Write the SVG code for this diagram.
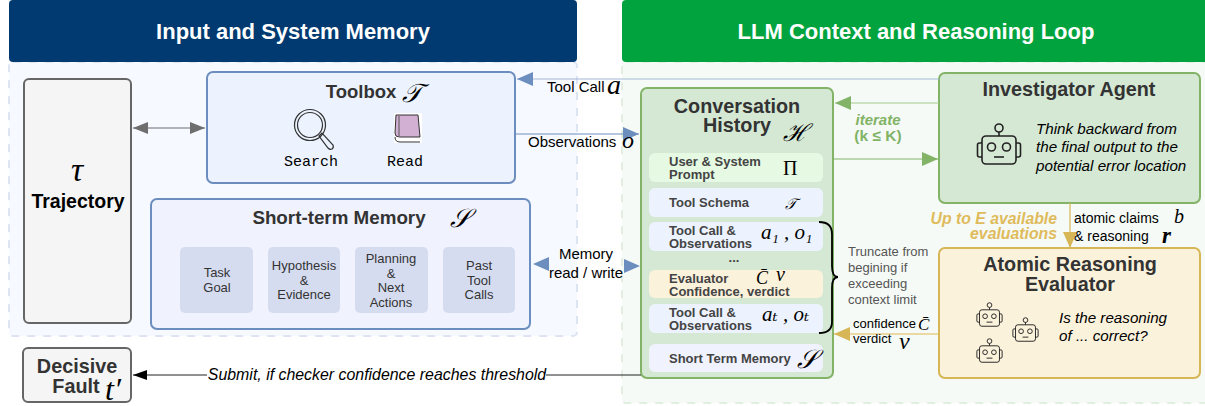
<svg xmlns="http://www.w3.org/2000/svg" width="1205" height="406" viewBox="0 0 1205 406">
<style>
text{font-family:"Liberation Sans",Arial,sans-serif;fill:#000}
.m{font-family:"Liberation Serif","DejaVu Serif",serif;font-style:italic}
.c{text-anchor:middle}
.hd{font-size:22px;font-weight:bold;fill:#fff;text-anchor:middle}
.tt{font-weight:bold;fill:#333;text-anchor:middle}
.sm{font-size:13px;fill:#333;text-anchor:middle}
.row{font-size:13px;font-weight:bold;fill:#444}
.lb{font-size:15px}
.it{font-size:15.200px;font-style:italic}
.mono{font-family:"Liberation Mono",monospace;font-size:15px;text-anchor:middle}
.cell{fill:#d6dcf0}
</style>
<defs>
<marker id="ab" markerUnits="userSpaceOnUse" markerWidth="16" markerHeight="14" refX="16" refY="7" orient="auto-start-reverse"><path d="M0 0L16 7L0 14Z" fill="#6c8ebf"/></marker>
<marker id="ag" markerUnits="userSpaceOnUse" markerWidth="16" markerHeight="14" refX="16" refY="7" orient="auto-start-reverse"><path d="M0 0L16 7L0 14Z" fill="#82b366"/></marker>
<marker id="ay" markerUnits="userSpaceOnUse" markerWidth="16" markerHeight="14" refX="16" refY="7" orient="auto-start-reverse"><path d="M0 0L16 7L0 14Z" fill="#d6b656"/></marker>
<marker id="ad" markerUnits="userSpaceOnUse" markerWidth="15" markerHeight="12" refX="15" refY="6" orient="auto-start-reverse"><path d="M0 0L15 6L0 12Z" fill="#6e6e6e"/></marker>
<marker id="ak" markerUnits="userSpaceOnUse" markerWidth="14" markerHeight="10" refX="14" refY="5" orient="auto-start-reverse"><path d="M0 0L14 5L0 10Z" fill="#000"/></marker>
<symbol id="robot" viewBox="0 0 46 42" overflow="visible">
<g fill="none" stroke="#222" stroke-width="1.6">
<circle cx="23" cy="5" r="4"/><path d="M23 9V13"/>
<rect x="6" y="13" width="34" height="28" rx="4"/>
<path d="M6 20H3.500Q1.500 20 1.500 22V32Q1.500 34 3.500 34H6M40 20H42.500Q44.500 20 44.500 22V32Q44.500 34 42.500 34H40"/>
<circle cx="15.500" cy="24" r="4"/><circle cx="30.500" cy="24" r="4"/><path d="M18 34H28"/>
</g></symbol>
</defs>

<g id="panel-left">
<rect x="9" y="62" width="568" height="274" rx="4" fill="#f6f9ff" stroke="#dde5f3" stroke-width="2" stroke-dasharray="8 8"/>
<rect x="9" y="0" width="568" height="62" rx="4" fill="#003a70"/>
<text class="hd" x="293" y="39">Input and System Memory</text>
</g>
<g id="panel-right">
<rect x="622" y="62" width="590" height="341" rx="4" fill="#f5faf6" stroke="#e2eee0" stroke-width="2" stroke-dasharray="8 8"/>
<rect x="622" y="0" width="590" height="62" rx="4" fill="#00a33e"/>
<text class="hd" x="916" y="39">LLM Context and Reasoning Loop</text>
</g>

<g id="trajectory">
<rect x="24" y="79" width="107" height="244" rx="5" fill="#f5f5f5" stroke="#666" stroke-width="2"/>
<text class="m c" x="77" y="181" font-size="34">τ</text>
<text class="c" x="78" y="208" font-size="19.500" font-weight="bold">Trajectory</text>
</g>
<g id="toolbox">
<rect x="207" y="72" width="308" height="111" rx="6" fill="#ecf3fe" stroke="#6c8ebf" stroke-width="2"/>
<text class="tt" x="361" y="98" font-size="18.500">Toolbox</text><text class="m" x="402" y="102" font-size="26">𝒯</text>
<g fill="none" stroke="#333" stroke-width="1.200">
<circle cx="310" cy="125" r="15.500"/><circle cx="310" cy="125" r="12.500"/>
<path d="M319 136L322 133L333 145Q334 148 332 149Q330 150 328 148Z"/>
</g>
<g>
<rect x="394" y="113" width="28" height="30" fill="#fff"/>
<path d="M396 115H418L420 137H399Q395 137 395 133Z" fill="#d1b0d4" stroke="#333" stroke-width="1"/>
<path d="M399 116V136" stroke="#555" stroke-width="1"/>
<path d="M395 137Q395 142 400 142H420" fill="#fff" stroke="#333" stroke-width="1"/>
</g>
<text class="mono" x="311" y="166">Search</text>
<text class="mono" x="405" y="166">Read</text>
</g>
<g id="short-term-memory">
<rect x="151" y="199" width="379" height="130" rx="6" fill="#f0f2fd" stroke="#6c8ebf" stroke-width="2"/>
<text class="tt" x="339" y="224" font-size="18.800">Short-term Memory</text><text class="m" x="450" y="227" font-size="26">𝒮</text>
<rect class="cell" x="180" y="247" width="73" height="66" rx="5"/>
<text class="sm" x="217" y="277">Task</text><text class="sm" x="217" y="292">Goal</text>
<rect class="cell" x="268" y="247" width="72" height="66" rx="5"/>
<text class="sm" x="304" y="270">Hypothesis</text><text class="sm" x="304" y="285">&amp;</text><text class="sm" x="304" y="299">Evidence</text>
<rect class="cell" x="355" y="247" width="73" height="66" rx="5"/>
<text class="sm" x="391" y="263">Planning</text><text class="sm" x="391" y="278">&amp;</text><text class="sm" x="391" y="292">Next</text><text class="sm" x="391" y="307">Actions</text>
<rect class="cell" x="443" y="247" width="72" height="66" rx="5"/>
<text class="sm" x="479" y="270">Past</text><text class="sm" x="479" y="285">Tool</text><text class="sm" x="479" y="299">Calls</text>
</g>
<g id="decisive-fault">
<rect x="23" y="348" width="108" height="54" rx="5" fill="#f5f5f5" stroke="#666" stroke-width="2"/>
<text class="tt" x="77" y="373" font-size="19.800">Decisive</text>
<text class="tt" x="76" y="393" font-size="19.800">Fault</text><text class="m" x="105" y="400" font-size="32">t′</text>
</g>
<g id="conversation-history">
<rect x="641" y="88" width="192" height="290" rx="6" fill="#d5e8d4" stroke="#82b366" stroke-width="2"/>
<text class="tt" x="737" y="113" font-size="19.800">Conversation</text>
<text class="tt" x="737" y="132" font-size="19.800">History</text><text class="m" x="783" y="141" font-size="24">ℋ</text>
<rect x="649" y="153" width="174" height="29" rx="6" fill="#e6f9e2"/>
<text class="row" x="669" y="166">User &amp; System</text><text class="row" x="669" y="179">Prompt</text><text class="m" x="783" y="175" font-size="20" style="font-style:normal">Π</text>
<rect x="649" y="188" width="174" height="29" rx="6" fill="#ecf3fe"/>
<text class="row" x="669" y="207">Tool Schema</text><text class="m" x="785" y="209" font-size="15">𝒯</text>
<rect x="649" y="222" width="174" height="29" rx="6" fill="#ecf3fe"/>
<text class="row" x="669" y="235">Tool Call  &amp;</text><text class="row" x="669" y="248">Observations</text>
<text class="m" x="761" y="239" font-size="21">a₁ , o₁</text>
<text class="c" x="734" y="262" font-size="13" font-weight="bold" style="fill:#444">...</text>
<rect x="649" y="270" width="174" height="28" rx="6" fill="#fbf2dc"/>
<text class="row" x="669" y="283">Evaluator</text><text class="row" x="669" y="296">Confidence, verdict</text>
<text class="m" x="756" y="284" font-size="18">C̄</text><text class="m" x="776" y="281" font-size="20">v</text>
<rect x="649" y="304" width="174" height="29" rx="6" fill="#ecf3fe"/>
<text class="row" x="669" y="317">Tool Call  &amp;</text><text class="row" x="669" y="330">Observations</text>
<text class="m" x="762" y="321" font-size="21">aₜ , oₜ</text>
<rect x="649" y="344" width="174" height="28" rx="6" fill="#f0f2fd"/>
<text class="row" x="669" y="363">Short Term Memory</text><text class="m" x="797" y="368" font-size="26">𝒮</text>
</g>
<g id="investigator-agent">
<rect x="939" y="73" width="261" height="130" rx="6" fill="#d5e8d4" stroke="#82b366" stroke-width="2"/>
<text class="tt" x="1069" y="96" font-size="19.800">Investigator Agent</text>
<use href="#robot" x="976" y="123" width="46" height="42"/>
<text class="it" x="1036" y="134">Think backward from</text>
<text class="it" x="1036" y="152">the final output to the</text>
<text class="it" x="1036" y="171">potential error location</text>
</g>
<g id="atomic-reasoning-evaluator">
<rect x="939" y="248" width="261" height="130" rx="6" fill="#fbf2dc" stroke="#d6b656" stroke-width="2"/>
<text class="tt" x="1070" y="271" font-size="19.800">Atomic Reasoning</text>
<text class="tt" x="1070" y="291" font-size="19.800">Evaluator</text>
<use href="#robot" x="976" y="302" width="27" height="25"/>
<use href="#robot" x="1012" y="317" width="27" height="25"/>
<use href="#robot" x="976" y="338" width="27" height="25"/>
<text class="it" x="1059" y="323">Is the reasoning</text>
<text class="it" x="1059" y="341">of ... correct?</text>
</g>

<g id="connectors">
<path d="M939 79H517" stroke="#a3b8d8" stroke-width="1.200" marker-end="url(#ab)" fill="none"/>
<path d="M516 134H639" stroke="#6c8ebf" stroke-width="1.200" marker-end="url(#ab)" fill="none"/>
<path d="M133 128H205" stroke="#6e6e6e" stroke-width="1.200" marker-start="url(#ad)" marker-end="url(#ad)" fill="none"/>
<path d="M533 264H548" stroke="none" marker-start="url(#ab)" fill="none"/>
<path d="M624 266H640" stroke="none" marker-end="url(#ab)" fill="none"/>
<path d="M939 103H835" stroke="#a5c890" stroke-width="1.200" marker-end="url(#ag)" fill="none"/>
<path d="M833 159H938" stroke="#82b366" stroke-width="1.200" marker-end="url(#ag)" fill="none"/>
<path d="M1070 203V248" stroke="#d6b656" stroke-width="1.200" marker-end="url(#ay)" fill="none"/>
<path d="M939 334H834" stroke="#e0b850" stroke-width="1.200" marker-end="url(#ay)" fill="none"/>
<path d="M641 375H546M207 375H133" stroke="#222" stroke-width="1" fill="none"/>
<path d="M147 375H133" stroke="none" marker-end="url(#ak)" fill="none"/>
<path d="M819 222Q832 222 832 234V266Q832 277 838 277Q832 277 832 288V322Q832 333 819 333" stroke="#000" stroke-width="1.800" fill="none"/>
</g>

<g id="edge-labels">
<text class="lb" x="547" y="92">Tool Call</text><text class="m" x="607" y="94" font-size="28">a</text>
<text class="lb" x="528" y="147">Observations</text><text class="m" x="622" y="148" font-size="24">o</text>
<text class="lb c" x="586" y="259">Memory</text><text class="lb c" x="586" y="278">read / write</text>
<text class="c" x="377" y="380" font-size="15.900" font-style="italic">Submit, if checker confidence reaches threshold</text>
<text x="878" y="125" class="c" font-size="15" font-weight="bold" font-style="italic" style="fill:#82b366">iterate</text>
<text x="878" y="141" class="c" font-size="15.500" font-weight="bold" style="fill:#82b366">(k ≤ K)</text>
<text x="1057" y="224" font-size="15.800" font-weight="bold" font-style="italic" text-anchor="end" style="fill:#e0bb5c">Up to E available</text>
<text x="1057" y="239" font-size="15.800" font-weight="bold" font-style="italic" text-anchor="end" style="fill:#e0bb5c">evaluations</text>
<text x="1074" y="223" font-size="14">atomic claims</text><text class="m" x="1174" y="223" font-size="20">b</text>
<text x="1074" y="241" font-size="14">&amp; reasoning</text><text class="m" x="1162" y="243" font-size="23" font-weight="bold">r</text>
<text x="848" y="256" font-size="13" style="fill:#555">Truncate from</text><text x="848" y="272" font-size="13" style="fill:#555">begining if</text><text x="848" y="288" font-size="13" style="fill:#555">exceeding</text><text x="848" y="304" font-size="13" style="fill:#555">context limit</text>
<text x="853" y="328" font-size="13">confidence</text><text class="m" x="918" y="330" font-size="17">C̄</text>
<text x="853" y="343" font-size="13">verdict</text><text class="m" x="899" y="349" font-size="24">v</text>
</g>
</svg>
